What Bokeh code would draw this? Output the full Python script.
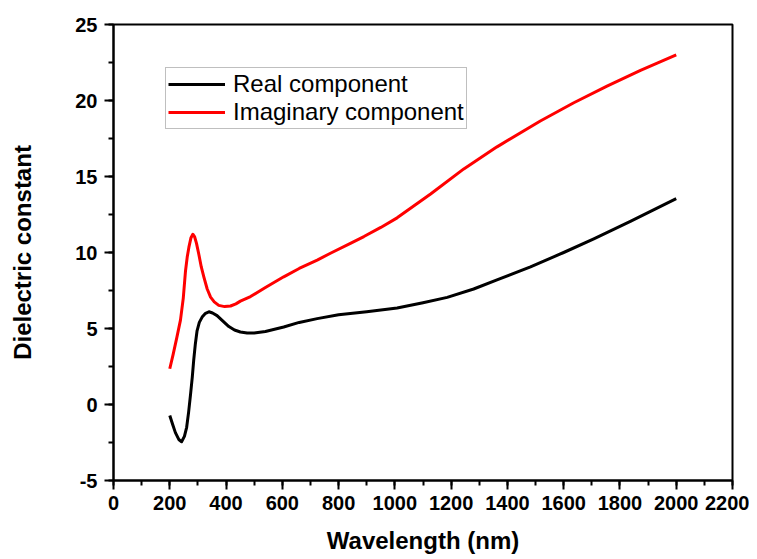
from bokeh.plotting import figure
from bokeh.models import Range1d, SingleIntervalTicker, Legend, LegendItem, PrintfTickFormatter
from bokeh.embed import file_html
from bokeh.resources import INLINE

# Wavelength (nm) and dielectric constant values
real_wl = [200, 210, 220, 232, 242, 252, 260, 267, 274, 280, 285, 291, 297, 305,
           315, 327, 339, 352, 368, 388, 410, 430, 451, 475, 500, 540, 605, 660,
           724, 800, 900, 1008, 1100, 1186, 1280, 1363, 1482, 1600, 1707, 1837, 2000]
real_val = [-0.72, -1.3, -1.85, -2.3, -2.45, -2.1, -1.5, -0.5, 0.7, 1.8, 2.9, 4.0, 4.85, 5.4,
            5.75, 6.0, 6.1, 6.02, 5.85, 5.5, 5.13, 4.9, 4.77, 4.7, 4.7, 4.8, 5.1, 5.4,
            5.65, 5.9, 6.1, 6.35, 6.7, 7.05, 7.6, 8.2, 9.05, 10.0, 10.9, 12.05, 13.55]

imag_wl = [200, 212, 225, 238, 248, 256, 262, 268, 275, 282, 288, 295, 303, 312,
           321, 333, 345, 358, 374, 395, 416, 435, 451, 487, 540, 605, 660, 724,
           771, 842, 890, 950, 1008, 1127, 1245, 1363, 1517, 1636, 1754, 1873, 2000]
imag_val = [2.35, 3.3, 4.4, 5.55, 7.0, 8.8, 9.7, 10.35, 10.95, 11.2, 11.05, 10.6, 9.9, 9.05,
            8.4, 7.6, 7.06, 6.75, 6.52, 6.44, 6.48, 6.62, 6.8, 7.1, 7.7, 8.4, 8.95, 9.5,
            9.95, 10.6, 11.05, 11.65, 12.28, 13.85, 15.5, 16.95, 18.65, 19.85, 20.95, 21.98, 23.0]

series_labels = ["Real component", "Imaginary component"]
x_title = "Wavelength (nm)"
y_title = "Dielectric constant"

FONT = "Liberation Sans"

p = figure(frame_width=619, frame_height=456, output_backend="svg",
           toolbar_location=None,
           x_range=Range1d(0, 2200), y_range=Range1d(-5, 25),
           min_border_left=113, min_border_top=24, min_border_right=17,
           min_border_bottom=60)
p.background_fill_color = "white"
p.border_fill_color = "white"
p.outline_line_color = "black"
p.outline_line_width = 2
p.xgrid.visible = False
p.ygrid.visible = False

r1 = p.line(real_wl, real_val, line_color="black", line_width=3, line_join="round")
r2 = p.line(imag_wl, imag_val, line_color="#ff0000", line_width=3, line_join="round")

p.xaxis.ticker = SingleIntervalTicker(interval=200, num_minor_ticks=2)
p.yaxis.ticker = SingleIntervalTicker(interval=5, num_minor_ticks=2)
p.xaxis.formatter = PrintfTickFormatter(format="%d")
p.yaxis.formatter = PrintfTickFormatter(format="%d")

for ax in (p.xaxis[0], p.yaxis[0]):
    ax.axis_line_width = 2
    ax.axis_line_color = "black"
    ax.major_tick_line_width = 2
    ax.minor_tick_line_width = 2
    ax.major_tick_out = 9
    ax.major_tick_in = 0
    ax.minor_tick_out = 5
    ax.minor_tick_in = 0
    ax.major_label_text_font = FONT
    ax.major_label_text_font_style = "bold"
    ax.major_label_text_font_size = "20px"
    ax.major_label_text_color = "black"
    ax.axis_label_text_font = FONT
    ax.axis_label_text_font_style = "bold"
    ax.axis_label_text_font_size = "24px"
    ax.axis_label_text_color = "black"

p.xaxis.axis_label = x_title
p.yaxis.axis_label = y_title
p.xaxis.major_label_standoff = 6
p.yaxis.major_label_standoff = 7
p.xaxis.axis_label_standoff = 14
p.yaxis.axis_label_standoff = 36

legend = Legend(items=[LegendItem(label=series_labels[0], renderers=[r1]),
                       LegendItem(label=series_labels[1], renderers=[r2])],
                location=(52, 351))
legend.label_text_font = FONT
legend.label_text_font_size = "24px"
legend.label_text_line_height = 1.0
legend.label_text_color = "black"
legend.glyph_width = 57
legend.glyph_height = 26
legend.label_height = 26
legend.label_standoff = 8
legend.spacing = 0
legend.padding = 2
legend.margin = 0
legend.border_line_color = "#808080"
legend.border_line_width = 1
legend.background_fill_color = "white"
legend.background_fill_alpha = 1
p.add_layout(legend)

open("out.html", "w").write(file_html(p, INLINE))
